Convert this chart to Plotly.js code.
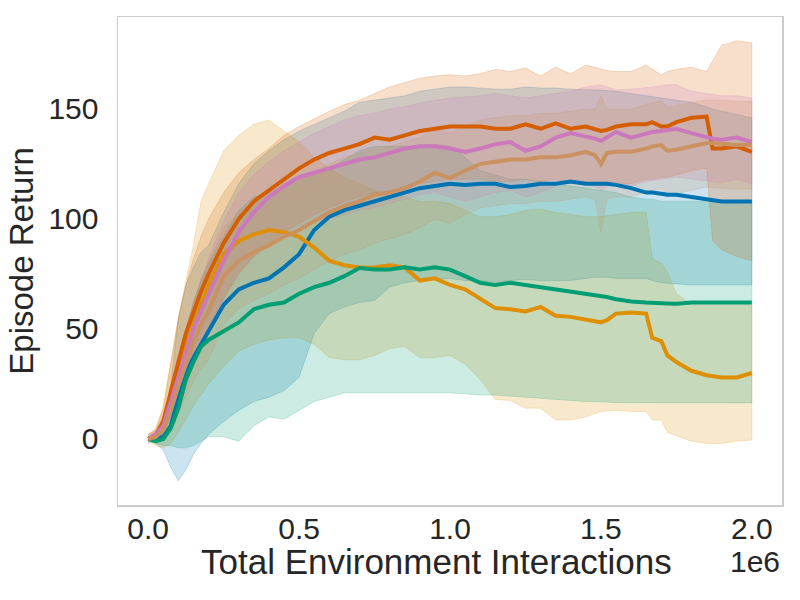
<!DOCTYPE html>
<html>
<head>
<meta charset="utf-8">
<script src="https://cdn.plot.ly/plotly-3.0.1.min.js"></script>
<style>html,body{margin:0;padding:0;background:#fff;}#chart{width:800px;height:600px;}</style>
</head>
<body>
<div id="chart"></div>
<script>
// Total environment interactions (in units of 1e6)
const steps = [0,0.025,0.05,0.075,0.1,0.125,0.15,0.175,0.2,0.25,0.3,0.35,0.4,0.45,0.5,0.55,0.6,0.65,0.7,0.75,0.8,0.85,0.9,0.95,1.0,1.05,1.1,1.15,1.2,1.25,1.3,1.35,1.4,1.45,1.48,1.5,1.52,1.55,1.6,1.65,1.67,1.7,1.72,1.75,1.8,1.85,1.87,1.9,1.95,2.0];

const blueMean  = [0,0,1,6,19,30,37,43,49,61,68,71,73,78,84,95,101,104,106,108,110,112,114,115,116,115.5,116,116,114.5,115,116,116,117,116,116,116,116,115.5,114,112,112,111.5,111,111,110,109,109,108,108,108];
const blueLower = [0,-2,-5,-13,-19,-14,-7,-2,2,8,13,17,19,22,28,48,57,60,62,63,69,71,72,72.5,73,72,72,71.5,72,72.5,72,72,72,73,73.5,73.5,73.5,73,73,73,72,71,71,70.5,70,70,70,70,70,70];
const blueUpper = [1,3,8,25,55,70,78,85,88,103,116,125,131,136,140,143,146,149,153,154,155,156,158,159,160,160,159.5,159,159,160,159.5,159.5,159,158.6,158.6,158.6,158.4,158,157,156,155.5,155,154.5,154,153,151,150,149,147.5,146];

const orangeMean  = [0,2,8,18,30,41,52,61,70,84,90,93,95,94,92,87,81,79,78,78,79,78,72,73,70,68,64,59.5,59,58,60,56,55.5,54,53.5,53,54,57,57.5,57,46,44.5,38,35,31,29,28.6,28,28,30];
const orangeLower = [-1,-3,-4,-2,3,9,15,20,25,33,40,43,45,46,46,43,37,36,36,38,41,42,37,37,38,34,27,18,17.5,14,14,8.6,8.6,10,11.5,12.5,12.8,13,12.5,12.5,8.6,8.6,3,1.5,-1,-2,-2,-2,-1,-0.5];
const orangeUpper = [2,5,15,35,55,72,88,108,116,131,138,143,145,140,135,128,123,119,116,113,112,110,108,108,107,104,101,101,102,104,104.5,103,102,101,101,101,101.5,102,103,103,82,80,76,66,61,61,61,61,61,61];

const greenMean  = [0,-1,0,5,14,27,35,42,45,49,53,59,61,62,66,69,71,74,77.7,77,77,78,77,78,77,74,71,70,71,70,69,68,67,66,65.5,65,64.5,63.5,62.5,62,62,61.6,61.6,61.5,62,62,62,62,62,62];
const greenLower = [-1,-2,-3,-3,-4,-4,-3,-1,1,1,-1,6,10,9,13,17,19,21,21,21,21,21,21,21,21,20.5,20,20,19.5,19,18.6,18,17.5,17,17,17,16.8,16.5,16.4,16.4,16.4,16.4,16.4,16.4,16.4,16.4,16.4,16.4,16.4,16.4];
const greenUpper = [1,1,3,12,30,50,62,72,80,92,104,110,112,115,119,121,123,127,131,133,133,133,133,134,133,128,122,120,118,118,117,116,115,114,113.5,113,112.5,112,110,109,109,108,108,108,108,108,108,108,108,108];

const redMean  = [0,1,8,22,35,48,58,67,75,89,100,108,113,118,123,127,130,132,134,137,136,138,140,141,142,142,142,141,141,143,141,143.5,141,142,141,140,140.5,142,143,143,144,142,142,144,146,146.5,132,132,133,130.5];
const redLower = [-1,-1,2,10,18,28,36,44,51,64,75,83,89,94,98,102,105,108,110,112,112,114,116,117,118,118,118,117,117,118,117,118,116,116,115.5,115,115.5,116,116,118,118,119,119,120,122,123,90,86,83,81];
const redUpper = [2,4,14,35,55,70,82,92,100,112,121,127,132,138,142,145.5,149,152,154,157,160,162,164,165,165.5,165,166,168,167,168.6,165,169,166,170,169,168,167.5,167,167,170,168,165.5,167,168,169,167,172,179,181,180];

const pinkMean  = [0,2,6,17,29,40,50,58,66,81,94,103,110,115,119,121,123,125,127,128,130,132,133,133,132,130.5,132,134,135,131,133,137,139,137.5,136.5,135.5,137,139.5,137,139,139.5,140,140.5,141,139,137,136.5,136,137,135];
const pinkLower = [-2,0,2,10,21,30,38,44,50,63,76,83,88,93,97,99,100,102,104,105,107,109,111,112,110,108,110,112,113,110,112,115,117,116,114.5,113,114.5,117,115,117,117.5,118,118.5,119,118,117,117,116.5,118,116];
const pinkUpper = [2,4,10,24,37,50,62,72,82,99,112,120,126,131,135,139,142,145,147,148,150,151,152.7,154,155,155.5,156,157,156,155,156,157,158,160,160.5,161,160,158.6,159,159.5,160,160.5,161,161,158,157,156.5,156,156,155];

const tanMean  = [0,1,4,13,24,34,44,52,58,74,81,85,88,92,95,99,103,106,108,111,112,114,117,121,118.6,122,125,126,127,127,128,128,129,130.5,129,125,130,130.5,130.5,132,133,133.6,131,131.5,133,134.5,134.5,134,133.6,133.6];
const tanLower = [-1,-1,0,5,12,19,26,32,36,52,59,63,66,70,73,77,81,84,86,89,91,93,96,100,98,102,105,106,107,107,108,108,109,110,109,94,109,110,110,112,113,113.6,111,111.5,113,114.5,114.5,114,113.6,113.6];
const tanUpper = [1,3,8,21,36,49,62,72,80,96,103,107,110,114,117,121,125,128,130,132,133,135,137,141,139,142,145,146,147,147,148,148,149,150,150,156,150,150,150,152,153,153.6,151,151.5,153,154,154,154,153.5,153.5];

const xTickVals = [0,0.5,1.0,1.5,2.0];
const xTickText = ['0.0','0.5','1.0','1.5','2.0'];
const yTickVals = [0,50,100,150];

const series = [
  {mean: blueMean,   lower: blueLower,   upper: blueUpper,   rgb: [1,115,178]},
  {mean: orangeMean, lower: orangeLower, upper: orangeUpper, rgb: [222,143,5]},
  {mean: greenMean,  lower: greenLower,  upper: greenUpper,  rgb: [2,158,115]},
  {mean: redMean,    lower: redLower,    upper: redUpper,    rgb: [213,94,0]},
  {mean: pinkMean,   lower: pinkLower,   upper: pinkUpper,   rgb: [204,120,188]},
  {mean: tanMean,    lower: tanLower,    upper: tanUpper,    rgb: [202,145,97]}
];

const rgba = (c, a) => 'rgba(' + c[0] + ',' + c[1] + ',' + c[2] + ',' + a + ')';
const traces = [];
// bands first (matplotlib draws fill collections beneath lines)
series.forEach(s => {
  traces.push({
    x: steps.concat(steps.slice().reverse()),
    y: s.upper.concat(s.lower.slice().reverse()),
    type: 'scatter', mode: 'lines', fill: 'toself',
    fillcolor: rgba(s.rgb, 0.2),
    line: {color: rgba(s.rgb, 0.2), width: 1},
    hoverinfo: 'skip', showlegend: false
  });
});
series.forEach(s => {
  traces.push({
    x: steps, y: s.mean, type: 'scatter', mode: 'lines',
    line: {color: rgba(s.rgb, 1), width: 4},
    showlegend: false
  });
});

const txt = '#262626';
const fontFam = '"Liberation Sans", Arial, sans-serif';
const layout = {
  width: 800, height: 600,
  margin: {l: 118, r: 18, t: 17, b: 95},
  paper_bgcolor: '#ffffff', plot_bgcolor: '#ffffff',
  font: {family: fontFam, color: txt},
  showlegend: false,
  xaxis: {
    range: [-0.1, 2.1], showgrid: false, zeroline: false,
    showline: true, linecolor: '#cccccc', linewidth: 1.5, mirror: true,
    tickvals: xTickVals, ticktext: xTickText,
    ticks: '', ticklabelstandoff: -4,
    tickfont: {size: 30, color: txt, family: fontFam}
  },
  yaxis: {
    range: [-30, 191.8], showgrid: false, zeroline: false,
    showline: true, linecolor: '#cccccc', linewidth: 1.5, mirror: true,
    tickvals: yTickVals,
    ticks: 'outside', ticklen: 12, tickcolor: 'rgba(0,0,0,0)',
    tickfont: {size: 30, color: txt, family: fontFam},
    title: {text: 'Episode Return', font: {size: 33, color: txt, family: fontFam}, standoff: 5}
  },
  annotations: [
    {text: 'Total Environment Interactions', xref: 'paper', yref: 'paper',
     x: 0.479, y: -0.1148, xanchor: 'center', yanchor: 'middle', showarrow: false,
     font: {size: 35, color: txt, family: fontFam}},
    {text: '1e6', xref: 'paper', yref: 'paper',
     x: 1.0, y: -0.1148, xanchor: 'right', yanchor: 'middle', showarrow: false,
     font: {size: 30, color: txt, family: fontFam}}
  ]
};

Plotly.newPlot('chart', traces, layout, {staticPlot: true, displayModeBar: false});
</script>
</body>
</html>
